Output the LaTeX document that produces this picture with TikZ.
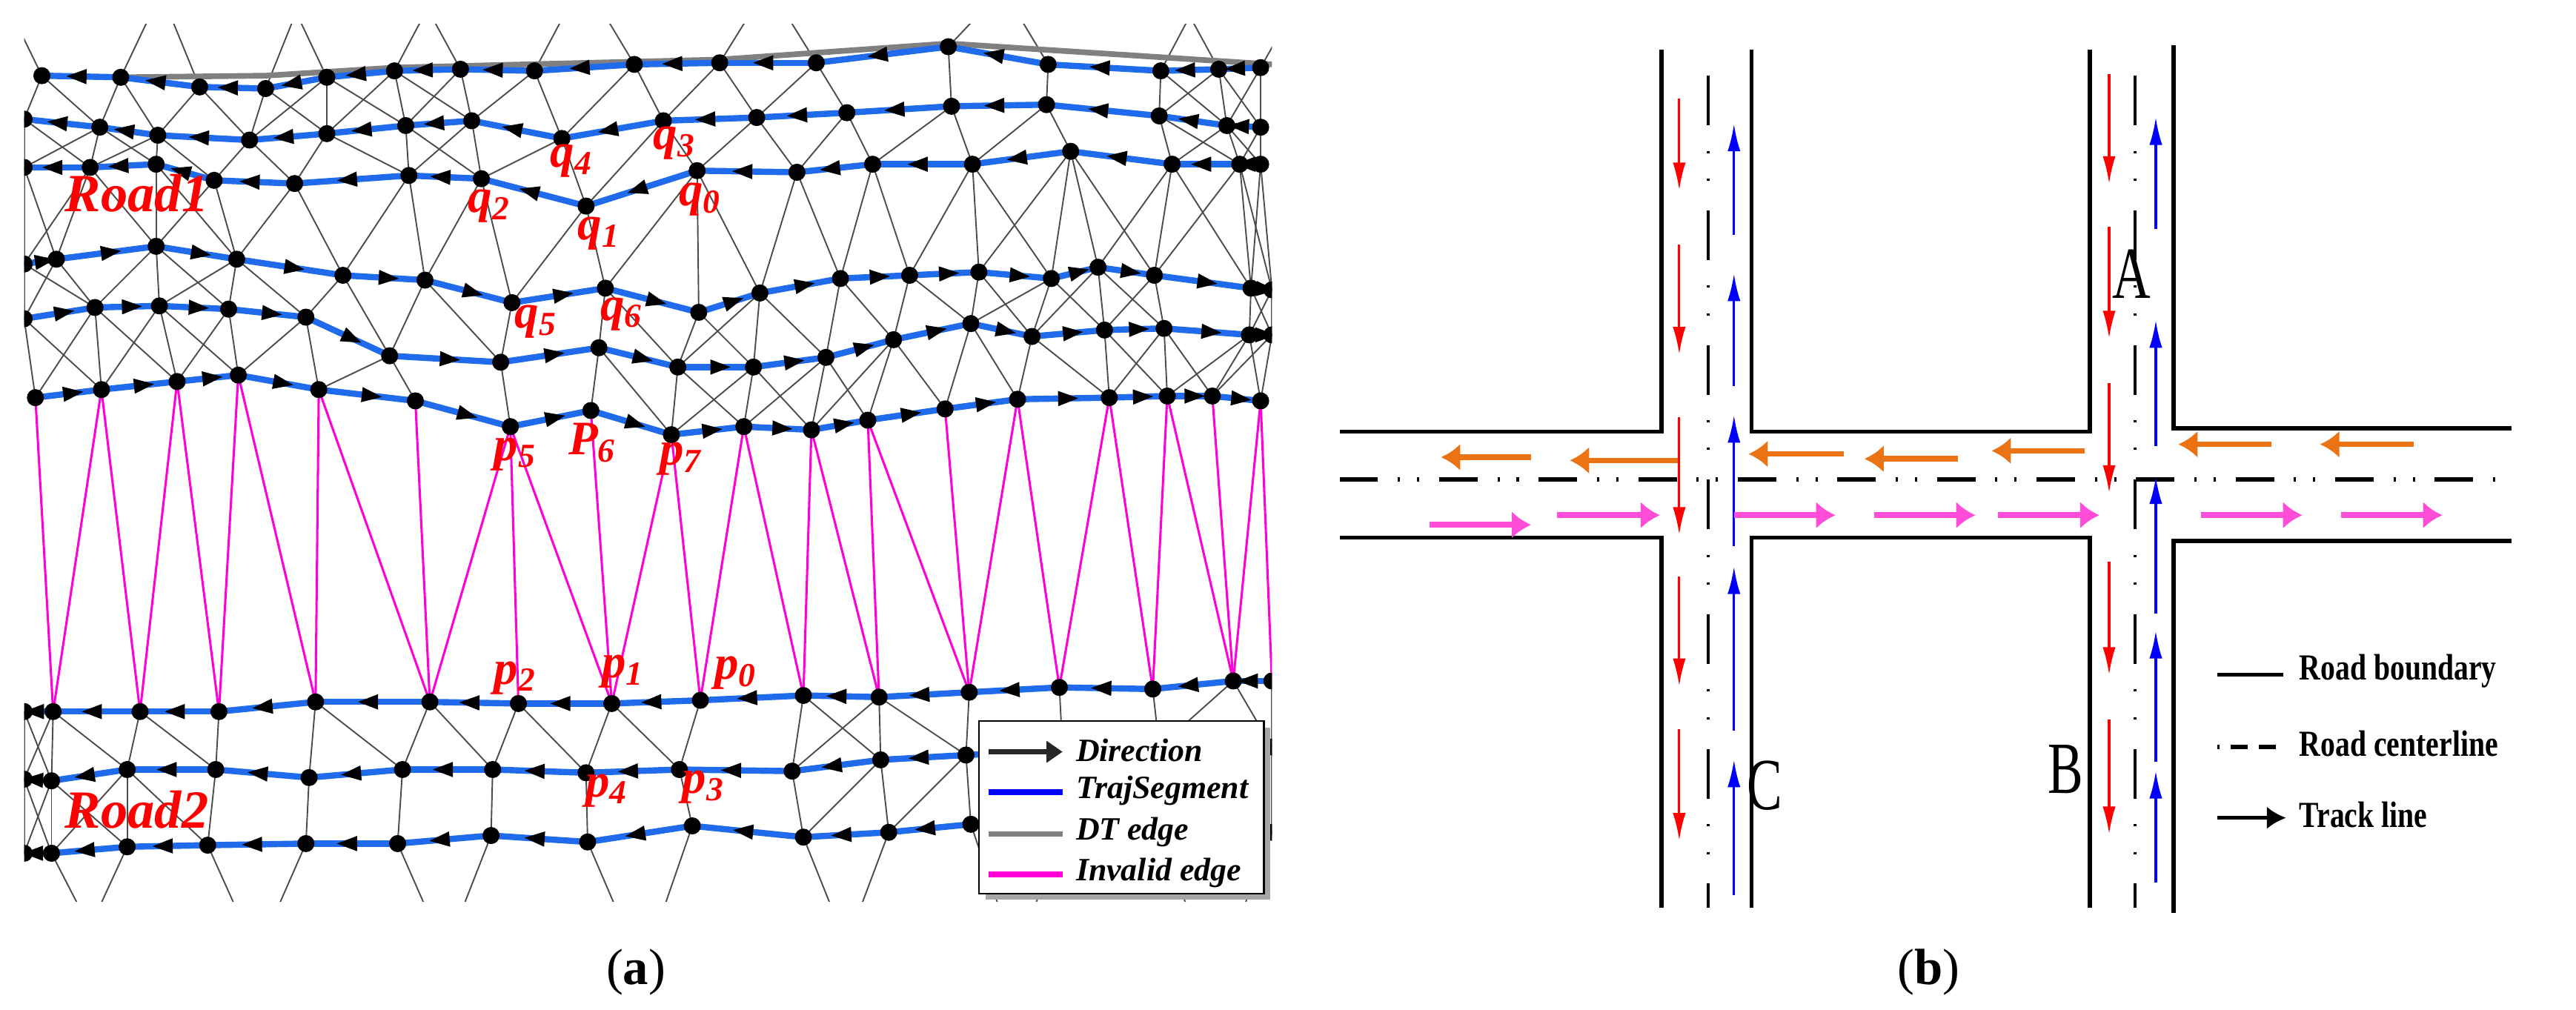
\documentclass[tikz,border=0pt]{standalone}
\usepackage{fontspec}
\setmainfont{Liberation Serif}
\usetikzlibrary{shapes.geometric,arrows.meta}
\definecolor{tb}{rgb}{0.12,0.42,0.92}
\definecolor{mag}{rgb}{1,0,0.85}
\definecolor{org}{rgb}{0.92,0.45,0.08}
\definecolor{pnk}{rgb}{1,0.3,0.85}
\def\rowA{26/47,75/48,124/54,165/55,203/48,245/44,286/43,332/44,394/40,447/39,507/39,589/29,651/40,721/44,757/43,783/42}
\def\rowB{15/74,62/79,98/84,155/87,203/83,252/78,293/75,349/86,412/75,470/73,526/70,591/66,650/65,720/72,762/78,783/79}
\def\rowC{15/104,56/104,97/102,133/112,183/114,254/109,299/111,364/128,433/106,495/107,542/102,604/102,665/94,728/102,770/102,783/102}
\def\rowD{15/164,35/161,97/153,147/161,213/171,264/174,318/188,376/179,434/194,472/182,522/173,565/171,608/169,653/173,682/166,717/171,777/179,790/180}
\def\rowE{15/198,59/191,99/190,142/192,190/197,242/221,311/225,372/216,421/228,468/228,513/222,555/211,603/201,641/209,686/205,723/204,776/208,790/208}
\def\rowF{22/247,63/242,110/237,148/233,198/242,258/249,317/265,367/255,417/270,462/265,504/267,539/261,587/254,632/248,689/247,725/246,753/246,783/249}
\def\rowG{15/442,33/442,87/442,136/442,196/436,267/436,322/437,380/437,435/435,499/432,546/433,602/430,658/427,716/428,766/423,790/423}
\def\rowH{15/484,32/485,79/478,134/478,192/483,250/478,306/478,364/480,422/478,492/479,547/472,600/469,660/466,720/464,790/464}
\def\rowI{15/530,32/530,79/526,129/525,190/524,247/524,305/519,365/523,430/513,499/520,552/517,603/512,660/515,720/518,790/517}
\def\Fx{{22,63,110,148,198,258,317,367,417,462,504,539,587,632,689,725,753,783}}
\def\Fy{{247,242,237,233,242,249,265,255,270,265,267,261,254,248,247,246,246,249}}
\def\Gx{{15,33,87,136,196,267,322,380,435,499,546,602,658,716,766,790}}
\def\Gy{{442,442,442,442,436,436,437,437,435,432,433,430,427,428,423,423}}
\newcommand\meshrows[4]{\foreach \xa/\ya in #1 {\foreach \xb/\yb in #2 {%
  \pgfmathtruncatemacro\ok{abs(\xa-\xb)<#3 ? 1 : 0}%
  \ifnum\ok=1 \draw[#4] (\xa,\ya)--(\xb,\yb);\fi}}}
\newcommand\edgerow[3]{\foreach \xa/\ya [count=\i] in #1 {%
  \pgfmathsetmacro\dx{mod(\i,2)==0 ? 18 : -18}%
  \draw[dt] (\xa,\ya)--(\xa+\dx,#2);}}
\newcommand\trajline[1]{\foreach \x/\y [count=\i, remember=\x as \lx (initially 0), remember=\y as \ly (initially 0)] in #1 {%
  \ifnum\i>1 \draw[traj] (\lx,\ly)--(\x,\y);\fi}}
\newcommand\trajarrows[2]{\foreach \x/\y [count=\i, remember=\x as \lx (initially 0), remember=\y as \ly (initially 0)] in #1 {%
  \ifnum\i>1 \path (\lx,\ly)--(\x,\y) node[midway,sloped,tri,rotate=#2]{};\fi}
  \foreach \x/\y in #1 {\fill (\x,\y) circle (5.3);}}
\newcommand\lb[2]{#1\textsubscript{#2}}
\begin{document}
\begin{tikzpicture}[x=0.02cm,y=-0.02cm,
  dt/.style={gray!60!black,line width=0.5pt},
  inv/.style={mag,line width=0.8pt},
  traj/.style={tb,line width=2.2pt},
  tri/.style={isosceles triangle,isosceles triangle stretches,fill=black,inner sep=0pt,minimum width=0.19cm,minimum height=0.25cm},
  lab/.style={text=red,font=\fontsize{17}{17}\selectfont\bfseries\itshape,inner sep=0pt},
  bd/.style={black,line width=1.4pt},
  cl/.style={black,line width=1pt,dash pattern=on 17.6pt off 9pt on 0.8pt off 9pt on 0.8pt off 10.4pt},
  hcl/.style={black,line width=1.6pt,dash pattern=on 13.6pt off 7pt on 0.8pt off 6pt on 0.8pt off 7pt},
  rd/.style={red,line width=0.8pt,-{Latex[length=0.34cm,width=0.16cm]}},
  bl/.style={blue,line width=0.8pt,-{Latex[length=0.34cm,width=0.16cm]}},
  og/.style={org,line width=2pt,-{Latex[length=0.24cm,width=0.34cm]}},
  pk/.style={pnk,line width=2pt,-{Latex[length=0.24cm,width=0.34cm]}},
  big/.style={font=\fontsize{26}{26}\selectfont,xscale=0.72,inner sep=0pt},
  leg/.style={font=\fontsize{13}{13}\selectfont\bfseries,xscale=0.8,anchor=west,inner sep=0pt}]
\useasboundingbox (0,0) rectangle (1600,627);
% ---------------- panel (a)
\begin{scope}
\clip (15,15) rectangle (790,560);
\edgerow{\rowA}{10}{}
\meshrows{\rowA}{\rowB}{52}{dt}
\meshrows{\rowB}{\rowC}{52}{dt}
\meshrows{\rowC}{\rowD}{60}{dt}
\meshrows{\rowD}{\rowE}{52}{dt}
\meshrows{\rowE}{\rowF}{52}{dt}
\foreach \t/\b in {0/1,1/1,1/2,2/2,2/3,3/3,3/4,4/4,4/5,5/5,6/5,6/6,6/7,7/7,8/7,8/8,9/8,9/9,10/9,10/10,11/10,11/11,12/11,13/11,13/12,14/12,14/13,15/13,15/14,16/14,17/14,17/15}
  {\pgfmathsetmacro\xa{\Fx[\t]}\pgfmathsetmacro\ya{\Fy[\t]}%
   \pgfmathsetmacro\xb{\Gx[\b]}\pgfmathsetmacro\yb{\Gy[\b]}%
   \draw[inv] (\xa,\ya)--(\xb,\yb);}
\meshrows{\rowG}{\rowH}{55}{dt}
\meshrows{\rowH}{\rowI}{55}{dt}
\edgerow{\rowI}{565}{}
\draw[gray,line width=2pt] (75,48)--(165,47)--(245,42)--(447,37)--(589,27)--(790,40);
\trajline{\rowA}\trajline{\rowB}\trajline{\rowC}\trajline{\rowD}\trajline{\rowE}
\trajline{\rowF}\trajline{\rowG}\trajline{\rowH}\trajline{\rowI}
\trajarrows{\rowA}{180}\trajarrows{\rowB}{180}\trajarrows{\rowC}{180}
\trajarrows{\rowD}{0}\trajarrows{\rowE}{0}\trajarrows{\rowF}{0}
\trajarrows{\rowG}{180}\trajarrows{\rowH}{180}\trajarrows{\rowI}{180}
\end{scope}
\node[lab] (q4) at (355,100) {\lb{q}{4}};
\node[lab] (q3) at (419,89) {\lb{q}{3}};
\node[lab] (q2) at (304,128) {\lb{q}{2}};
\node[lab] (q1) at (372,145) {\lb{q}{1}};
\node[lab] (q0) at (435,124) {\lb{q}{0}};
\node[lab] (q5) at (333,200) {\lb{q}{5}};
\node[lab] (q6) at (386,195) {\lb{q}{6}};
\node[lab] (p5) at (320,282) {\lb{p}{5}};
\node[lab] (P6) at (368,275) {\lb{P}{6}};
\node[lab] (p7) at (423,285) {\lb{p}{7}};
\node[lab] (p2) at (320,421) {\lb{p}{2}};
\node[lab] (p1) at (387,417) {\lb{p}{1}};
\node[lab] (p0) at (457,418) {\lb{p}{0}};
\node[lab] (p4) at (377,491) {\lb{p}{4}};
\node[lab] (p3) at (437,489) {\lb{p}{3}};
\node[lab,font=\fontsize{19}{19}\selectfont\bfseries\itshape] (r1) at (85,120) {Road1};
\node[lab,font=\fontsize{19}{19}\selectfont\bfseries\itshape] (r2) at (85,503) {Road2};
% legend (a)
\fill[gray!70] (612,452) rectangle (789,559);
\draw[fill=white,line width=0.6pt] (608,448) rectangle (785,555);
\draw[black!85,line width=2pt,-{Triangle[length=0.2cm,width=0.26cm]}] (614,467)--(660,467);
\draw[blue,line width=2pt] (614,492)--(660,492);
\draw[gray,line width=2pt] (614,518)--(660,518);
\draw[mag,line width=2pt] (614,543)--(660,543);
\begin{scope}[every node/.style={font=\fontsize{11.5}{12}\selectfont\bfseries\itshape,anchor=west,inner sep=0pt}]
\node (l1) at (668,466) {Direction};
\node (l2) at (668,491) {TrajSegment};
\node (l3) at (668,517) {DT edge};
\node (l4) at (668,542) {Invalid edge};
\end{scope}
\node[font=\fontsize{18}{18}\selectfont] (ca) at (395,604) {(\textbf{a})};
% ---------------- panel (b)
\draw[bd] (1032,31)--(1032,268)--(832,268);
\draw[bd] (1088,31)--(1088,268)--(1298,268)--(1298,31);
\draw[bd] (1350,28)--(1350,266)--(1560,266);
\draw[bd] (832,334)--(1032,334)--(1032,564);
\draw[bd] (1088,564)--(1088,334)--(1298,334)--(1298,564);
\draw[bd] (1350,567)--(1350,336)--(1560,336);
\draw[hcl] (832,298)--(1560,298);
\draw[cl] (1061,47)--(1061,564);
\draw[cl] (1326,47)--(1326,564);
% red down / blue up
\foreach \a/\b in {61/118,152/220,259/332,358/426,453/522} \draw[rd] (1043,\a)--(1043,\b);
\foreach \a/\b in {146/77,240/170,339/258,454/352,556/472} \draw[bl] (1077,\a)--(1077,\b);
\foreach \a/\b in {46/114,141/210,238/306,349/419,447/518} \draw[rd] (1310,\a)--(1310,\b);
\foreach \a/\b in {142/73,277/199,381/296,473/392,548/479} \draw[bl] (1339,\a)--(1339,\b);
\foreach \a/\b/\y in {951/895/284,1042/975/286,1145/1086/282,1216/1158/285,1295/1237/280,1411/1353/276,1499/1441/276} \draw[og] (\a,\y)--(\b,\y);
\foreach \a/\b/\y in {888/951/326,967/1031/320,1077/1140/320,1164/1227/320,1241/1304/320,1367/1430/320,1454/1517/320} \draw[pk] (\a,\y)--(\b,\y);
\node[big] (A) at (1324,170) {A};
\node[big] (B) at (1283,478) {B};
\node[big] (C) at (1096,488) {C};
\draw[bd] (1377,419)--(1418,419);
\draw[black,line width=1.4pt,dash pattern=on 0.8pt off 4pt on 6pt off 4pt on 6pt off 4pt] (1377,464)--(1418,464);
\draw[black,line width=1.4pt,-{Latex[length=0.24cm,width=0.28cm]}] (1377,508)--(1420,508);
\node[leg] (k1) at (1428,417) {Road boundary};
\node[leg] (k2) at (1428,462) {Road centerline};
\node[leg] (k3) at (1428,506) {Track line};
\node[font=\fontsize{18}{18}\selectfont] (cb) at (1198,604) {(\textbf{b})};
\end{tikzpicture}
\end{document}
